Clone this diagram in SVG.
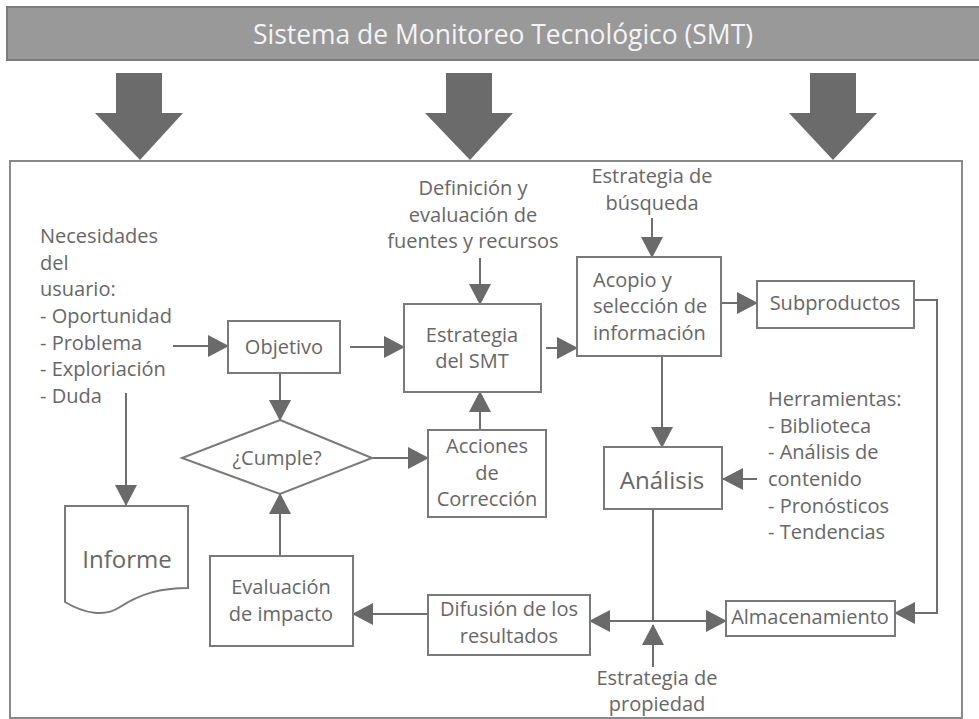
<svg xmlns="http://www.w3.org/2000/svg" width="979" height="719" viewBox="0 0 979 719">
<defs>
<marker id="ah" markerUnits="userSpaceOnUse" markerWidth="21" markerHeight="22" viewBox="0 0 21 22" refX="20" refY="11" orient="auto">
<path d="M0,0 L21,11 L0,22 Z" fill="#6a6a6a"/>
</marker>
</defs>
<style>
text{font-family:"Open Sans","Liberation Sans",sans-serif;fill:#676767;font-size:20px}
.c{text-anchor:middle}
.box{fill:#fff;stroke:#7a7a7a;stroke-width:2}
.ln{fill:none;stroke:#6e6e6e;stroke-width:2}
.ar{fill:none;stroke:#6e6e6e;stroke-width:2;marker-end:url(#ah)}
.big{fill:#6b6b6b}
</style>
<rect width="979" height="719" fill="#fff"/>
<g id="banner">
<rect x="7" y="7" width="980" height="53" fill="#999999" stroke="#7c7c7c" stroke-width="2"/>
<text x="503" y="44" class="c" style="fill:#f4f4f4;font-size:27px" textLength="500" lengthAdjust="spacingAndGlyphs">Sistema de Monitoreo Tecnológico (SMT)</text>
</g>
<g id="big-arrows">
<polygon class="big" points="116,73 162,73 162,113 183,113 140,160 95,113 116,113"/>
<polygon class="big" points="446,73 492,73 492,113 513,113 470,160 425,113 446,113"/>
<polygon class="big" points="810,73 856,73 856,113 877,113 833,160 789,113 810,113"/>
</g>
<g id="frame">
<rect x="10" y="161" width="952" height="557" fill="none" stroke="#8a8a8a" stroke-width="2"/>
</g>
<g id="connectors">
<line class="ar" x1="173" y1="346" x2="228" y2="346"/>
<line class="ar" x1="350" y1="347" x2="404" y2="347"/>
<line class="ar" x1="546" y1="348" x2="577" y2="348"/>
<line class="ar" x1="721" y1="303" x2="757" y2="303"/>
<polyline class="ar" points="914,300 937,300 937,613 895,613"/>
<line class="ar" x1="480" y1="258" x2="480" y2="304"/>
<line class="ar" x1="652" y1="218" x2="652" y2="257"/>
<line class="ar" x1="662" y1="356" x2="662" y2="447"/>
<line class="ar" x1="757" y1="479" x2="723" y2="479"/>
<line class="ar" x1="280" y1="373" x2="280" y2="420"/>
<line class="ar" x1="372" y1="458" x2="428" y2="458"/>
<line class="ar" x1="480" y1="430" x2="480" y2="392"/>
<line class="ar" x1="126" y1="393" x2="126" y2="505"/>
<line class="ar" x1="280" y1="556" x2="280" y2="494"/>
<line class="ar" x1="428" y1="614" x2="353" y2="614"/>
<line class="ln" x1="653" y1="509" x2="653" y2="621"/>
<line class="ar" x1="653" y1="621" x2="590" y2="621"/>
<line class="ar" x1="653" y1="621" x2="726" y2="621"/>
<line class="ar" x1="653" y1="667" x2="653" y2="625"/>
</g>
<g id="necesidades">
<text x="40" y="243">Necesidades</text>
<text x="40" y="270">del</text>
<text x="40" y="296">usuario:</text>
<text x="40" y="323">- Oportunidad</text>
<text x="40" y="350">- Problema</text>
<text x="40" y="376">- Exploriación</text>
<text x="40" y="403">- Duda</text>
</g>
<g id="objetivo">
<rect class="box" x="228" y="321" width="112" height="52"/>
<text x="284" y="354" class="c">Objetivo</text>
</g>
<g id="definicion">
<text x="473" y="195" class="c">Definición y</text>
<text x="473" y="222" class="c">evaluación de</text>
<text x="473" y="248" class="c">fuentes y recursos</text>
</g>
<g id="estrategia-smt">
<rect class="box" x="404" y="304" width="137" height="88"/>
<text x="472" y="342" class="c">Estrategia</text>
<text x="472" y="368" class="c">del SMT</text>
</g>
<g id="busqueda">
<text x="652" y="183" class="c">Estrategia de</text>
<text x="652" y="210" class="c">búsqueda</text>
</g>
<g id="acopio">
<rect class="box" x="577" y="257" width="144" height="99"/>
<text x="593" y="287">Acopio y</text>
<text x="593" y="313">selección de</text>
<text x="593" y="340">información</text>
</g>
<g id="subproductos">
<rect class="box" x="757" y="281" width="157" height="47"/>
<text x="835" y="310" class="c">Subproductos</text>
</g>
<g id="herramientas">
<text x="768" y="406">Herramientas:</text>
<text x="768" y="433">- Biblioteca</text>
<text x="768" y="459">- Análisis de</text>
<text x="768" y="486">contenido</text>
<text x="768" y="513">- Pronósticos</text>
<text x="768" y="539">- Tendencias</text>
</g>
<g id="analisis">
<rect class="box" x="604" y="447" width="118" height="62"/>
<text x="662" y="489" class="c" style="font-size:24px">Análisis</text>
</g>
<g id="cumple">
<polygon class="box" points="280,420 372,458 280,494 182,458"/>
<text x="277" y="465" class="c">¿Cumple?</text>
</g>
<g id="acciones">
<rect class="box" x="428" y="430" width="118" height="87"/>
<text x="487" y="453" class="c">Acciones</text>
<text x="487" y="480" class="c">de</text>
<text x="487" y="506" class="c">Corrección</text>
</g>
<g id="informe">
<path class="box" d="M65,506 H188 V588 C160,588 140,594 120,607 C105,617 85,614 65,602 Z"/>
<text x="127" y="568" class="c" style="font-size:24px">Informe</text>
</g>
<g id="evaluacion">
<rect class="box" x="210" y="556" width="143" height="90"/>
<text x="281" y="594" class="c">Evaluación</text>
<text x="281" y="621" class="c">de impacto</text>
</g>
<g id="difusion">
<rect class="box" x="428" y="595" width="162" height="60"/>
<text x="509" y="616" class="c">Difusión de los</text>
<text x="509" y="643" class="c">resultados</text>
</g>
<g id="almacenamiento">
<rect class="box" x="726" y="601" width="169" height="35"/>
<text x="810" y="624" class="c">Almacenamiento</text>
</g>
<g id="propiedad">
<text x="657" y="685" class="c">Estrategia de</text>
<text x="657" y="711" class="c">propiedad</text>
</g>
</svg>
